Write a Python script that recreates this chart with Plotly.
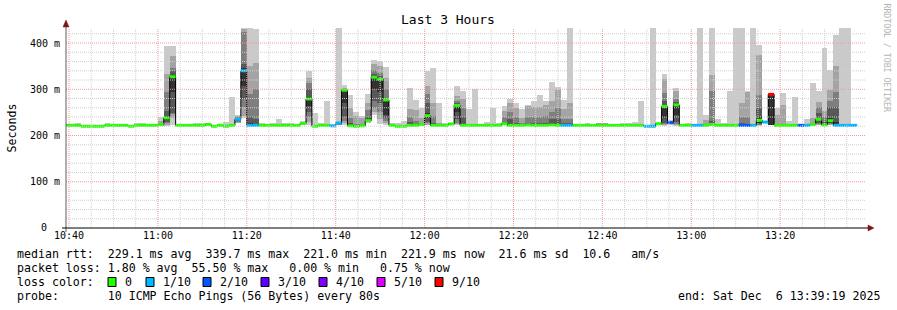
import plotly.graph_objects as go
from datetime import datetime, timedelta

# ---------------- data ----------------
END_TIME = datetime(2025, 12, 6, 13, 39, 19)
START_TIME = END_TIME - timedelta(hours=3)
STEP_SECONDS = 80

median_ms = [
    222, 222, 222, 220, 220, 220, 220, 222, 222, 222,
    222, 220, 222, 222, 222, 222, 224, 238, 327, 222,
    222, 222, 222, 222, 224, 220, 222, 220, 222, 235,
    340, 222, 222, 222, 222, 222, 222, 222, 222, 222,
    226, 279, 220, 222, 222, 221, 227, 298, 221, 220,
    221, 232, 326, 322, 277, 222, 220, 220, 222, 222,
    224, 243, 222, 222, 222, 225, 265, 222, 222, 222,
    222, 222, 222, 222, 225.5, 222, 222, 222, 223, 222,
    222, 222, 223, 222, 222, 222, 222, 222, 222, 222,
    222, 222, 222, 222, 222, 222, 222, 222, 220, 220,
    225.6, 263, 228, 266, 222, 222, 222, 222, 222, 224,
    222, 222, 222, 222, 222, 222, 222, 233, 229, 289,
    222, 222, 222, 222, 222, 222, 224, 235, 223, 232,
    222, 222, 222, 222,
]

loss_count = [
    0, 0, 0, 0, 0, 0, 0, 0, 0, 0,
    0, 0, 0, 0, 0, 0, 0, 0, 0, 0,
    0, 0, 0, 0, 0, 0, 0, 0, 0, 1,
    1, 1, 1, 0, 0, 0, 0, 0, 0, 0,
    0, 0, 0, 0, 0, 1, 1, 0, 0, 0,
    0, 0, 0, 0, 0, 0, 0, 0, 0, 0,
    0, 0, 0, 0, 0, 0, 0, 0, 0, 0,
    0, 0, 0, 0, 0, 0, 0, 0, 0, 0,
    0, 0, 0, 0, 1, 1, 0, 0, 0, 0,
    0, 0, 0, 0, 0, 0, 0, 0, 1, 1,
    0, 0, 2, 0, 0, 0, 1, 1, 0, 0,
    0, 0, 0, 0, 2, 2, 1, 0, 1, 9,
    0, 0, 0, 0, 2, 1, 0, 0, 0, 0,
    1, 1, 1, 1,
]

# sorted ping rtts (ms) per step, ping1 = fastest ... ping10 = slowest
ping10 = [
    222, 222, 226, 220, 220, 220, 220, 226, 222, 222,
    222, 220, 226, 226, 222, 222, 241, 394, 394, 222,
    222, 222, 227, 227, 226, 220, 222, 230, 283, 245,
    433, 433, 430, 226, 222, 226, 235, 226, 226, 222,
    232, 340, 248, 228, 274, 221, 433, 310, 287, 250,
    243, 289, 363, 362, 348, 228, 228, 232, 302, 276,
    260, 340, 345, 270, 228, 228, 308, 297, 257, 301,
    222, 230, 259, 227, 263, 279, 271, 258, 267, 275,
    287, 274, 315, 305, 276, 433, 222, 222, 226, 222,
    226, 226, 222, 222, 228, 228, 230, 274, 220, 433,
    228, 333, 233, 302, 222, 228, 222, 433, 245, 433,
    236, 228, 296, 433, 433, 297, 433, 396, 231, 289,
    259, 292, 231, 283, 222, 236, 314, 297, 390, 342,
    417, 433, 433, 222,
]
ping9 = [
    222, 222, 222, 220, 220, 220, 220, 222, 222, 222,
    222, 220, 222, 222, 222, 222, 232, 333, 372, 222,
    222, 222, 222, 222, 224, 220, 222, 220, 222, 243,
    430, 350, 357, 225, 222, 222, 222, 222, 222, 222,
    230, 325, 220, 222, 222, 221, 229, 303, 259, 243,
    237, 270, 355, 350, 325, 222, 220, 220, 258, 255,
    237, 308, 271, 226, 222, 227, 285, 280, 222, 222,
    222, 222, 222, 222, 252, 270, 260, 237, 263, 262,
    261, 265, 274, 299, 258, 270, 222, 222, 222, 222,
    226, 226, 222, 222, 222, 222, 222, 222, 220, 220,
    227, 323, 231, 296, 222, 222, 222, 222, 233, 330,
    222, 222, 222, 222, 271, 295, 222, 374, 230, 289,
    245, 265, 222, 222, 222, 222, 238, 272, 253, 298,
    351, 222, 222, 222,
]
ping8 = [
    222, 222, 222, 220, 220, 220, 220, 222, 222, 222,
    222, 220, 222, 222, 222, 222, 228, 294, 345, 222,
    222, 222, 222, 222, 224, 220, 222, 220, 222, 240,
    423, 290, 300, 222, 222, 222, 222, 222, 222, 222,
    229, 314, 220, 222, 222, 221, 228, 301, 238, 225,
    224, 255, 341, 335, 300, 222, 220, 220, 240, 231,
    226, 290, 242, 222, 222, 226.5, 275, 260, 222, 222,
    222, 222, 222, 222, 240, 250, 240, 228, 240, 240,
    240, 242, 250, 260, 235, 235, 222, 222, 222, 222,
    225, 225, 222, 222, 222, 222, 222, 222, 220, 220,
    226.5, 291, 230, 278, 222, 222, 222, 222, 222, 296,
    222, 222, 222, 222, 240, 240, 222, 287, 229, 289,
    222, 222, 222, 222, 222, 222, 224, 262, 240, 275,
    294, 222, 222, 222,
]
ping7 = [
    222, 222, 222, 220, 220, 220, 220, 222, 222, 222,
    222, 220, 222, 222, 222, 222, 226, 252, 340, 222,
    222, 222, 222, 222, 224, 220, 222, 220, 222, 238,
    354, 240, 235, 222, 222, 222, 222, 222, 222, 222,
    228, 300, 220, 222, 222, 221, 227.5, 300, 228, 223,
    221, 240, 332, 328, 281, 222, 220, 220, 230, 224,
    224, 270, 228, 222, 222, 226, 270, 240, 222, 222,
    222, 222, 222, 222, 230, 235, 228, 222, 228, 228,
    228, 226, 235, 235, 226, 226, 222, 222, 222, 222,
    222, 222, 222, 222, 222, 222, 222, 222, 220, 220,
    226, 275, 229, 272, 222, 222, 222, 222, 222, 232,
    222, 222, 222, 222, 227, 222, 222, 260, 229, 289,
    222, 222, 222, 222, 222, 222, 224, 249, 230, 262,
    262, 222, 222, 222,
]
ping6 = [
    222, 222, 222, 220, 220, 220, 220, 222, 222, 222,
    222, 220, 222, 222, 222, 222, 225, 242, 330, 222,
    222, 222, 222, 222, 224, 220, 222, 220, 222, 237,
    345, 226, 225, 222, 222, 222, 222, 222, 222, 222,
    227, 284, 220, 222, 222, 221, 227, 299, 223, 222,
    221, 234, 328, 325, 279, 222, 220, 220, 223, 222,
    224, 248, 223, 222, 222, 225.5, 267, 225, 222, 222,
    222, 222, 222, 222, 227, 225, 223, 222, 223, 222,
    222, 222, 226, 225, 222, 222, 222, 222, 222, 222,
    222, 222, 222, 222, 222, 222, 222, 222, 220, 220,
    225.8, 266, 228.5, 268, 222, 222, 222, 222, 222, 226,
    222, 222, 222, 222, 222, 222, 222, 240, 229, 289,
    222, 222, 222, 222, 222, 222, 224, 238, 223, 238,
    230, 222, 222, 222,
]
ping5 = [
    222, 222, 222, 220, 220, 220, 220, 222, 222, 222,
    222, 220, 222, 222, 222, 222, 223, 234, 294, 222,
    222, 222, 222, 222, 224, 220, 222, 220, 222, 233,
    307, 222, 222, 222, 222, 222, 222, 222, 222, 222,
    225, 263, 220, 222, 222, 221, 226, 270, 221, 220,
    221, 230, 300, 295, 245, 222, 220, 220, 222, 222,
    224, 238, 222, 222, 222, 224.5, 250, 222, 222, 222,
    222, 222, 222, 222, 225.5, 222, 222, 222, 223, 222,
    222, 222, 223, 222, 222, 222, 222, 222, 222, 222,
    222, 222, 222, 222, 222, 222, 222, 222, 220, 220,
    225, 240, 227, 245, 222, 222, 222, 222, 222, 224,
    222, 222, 222, 222, 222, 222, 222, 228, 229, 222,
    222, 222, 222, 222, 222, 222, 224, 232, 223, 228,
    222, 222, 222, 222,
]
ping4 = [
    222, 222, 222, 220, 220, 220, 220, 222, 222, 222,
    222, 220, 222, 222, 222, 222, 222, 230, 249, 222,
    222, 222, 222, 222, 224, 220, 222, 220, 222, 231,
    278, 222, 222, 222, 222, 222, 222, 222, 222, 222,
    224, 250, 220, 222, 222, 221, 225, 240, 221, 220,
    221, 229.5, 275, 270, 238, 222, 220, 220, 222, 222,
    224, 230, 222, 222, 222, 224, 235, 222, 222, 222,
    222, 222, 222, 222, 225.5, 222, 222, 222, 223, 222,
    222, 222, 223, 222, 222, 222, 222, 222, 222, 222,
    222, 222, 222, 222, 222, 222, 222, 222, 220, 220,
    224, 228, 226, 230, 222, 222, 222, 222, 222, 224,
    222, 222, 222, 222, 222, 222, 222, 225, 229, 222,
    222, 222, 222, 222, 222, 222, 224, 228, 223, 226,
    222, 222, 222, 222,
]
ping3 = [
    222, 222, 222, 220, 220, 220, 220, 222, 222, 222,
    222, 220, 222, 222, 222, 222, 222, 226, 246, 222,
    222, 222, 222, 222, 224, 220, 222, 220, 222, 229,
    262, 222, 222, 222, 222, 222, 222, 222, 222, 222,
    223, 241, 220, 222, 222, 221, 224, 232, 221, 220,
    221, 229, 260, 250, 232, 222, 220, 220, 222, 222,
    224, 226, 222, 222, 222, 223, 228, 222, 222, 222,
    222, 222, 222, 222, 225.5, 222, 222, 222, 223, 222,
    222, 222, 223, 222, 222, 222, 222, 222, 222, 222,
    222, 222, 222, 222, 222, 222, 222, 222, 220, 220,
    223, 224, 225, 225, 222, 222, 222, 222, 222, 224,
    222, 222, 222, 222, 222, 222, 222, 223, 229, 222,
    222, 222, 222, 222, 222, 222, 224, 225, 223, 224,
    222, 222, 222, 222,
]
ping2 = [
    222, 222, 222, 220, 220, 220, 220, 222, 222, 222,
    222, 220, 222, 222, 222, 222, 222, 223, 238, 222,
    222, 222, 222, 222, 224, 220, 222, 220, 222, 228,
    242, 222, 222, 222, 222, 222, 222, 222, 222, 222,
    222, 230, 220, 222, 222, 221, 223, 226, 221, 220,
    221, 228.5, 250, 235, 226, 222, 220, 220, 222, 222,
    224, 223, 222, 222, 222, 222, 224, 222, 222, 222,
    222, 222, 222, 222, 225.5, 222, 222, 222, 223, 222,
    222, 222, 223, 222, 222, 222, 222, 222, 222, 222,
    222, 222, 222, 222, 222, 222, 222, 222, 220, 220,
    222, 222, 224, 222, 222, 222, 222, 222, 222, 224,
    222, 222, 222, 222, 222, 222, 222, 222, 229, 222,
    222, 222, 222, 222, 222, 222, 224, 223, 223, 223,
    222, 222, 222, 222,
]
ping1 = [
    222, 222, 222, 220, 220, 220, 220, 222, 222, 222,
    222, 220, 222, 222, 222, 222, 222, 221, 222, 222,
    222, 222, 222, 222, 224, 220, 222, 220, 222, 226,
    238, 222, 222, 222, 222, 222, 222, 222, 222, 222,
    222, 223, 220, 222, 222, 221, 222, 222, 221, 220,
    221, 228, 245, 225, 222, 222, 220, 220, 222, 222,
    224, 222, 222, 222, 222, 222, 222, 222, 222, 222,
    222, 222, 222, 222, 225.5, 222, 222, 222, 223, 222,
    222, 222, 223, 222, 222, 222, 222, 222, 222, 222,
    222, 222, 222, 222, 222, 222, 222, 222, 220, 220,
    222, 221, 223, 221, 222, 222, 222, 222, 222, 224,
    222, 222, 222, 222, 222, 222, 222, 221, 229, 222,
    222, 222, 222, 222, 222, 222, 224, 222, 223, 222,
    222, 222, 222, 222,
]

y_tick_values = [100, 200, 300, 400]
y_tick_labels = ["100 m", "200 m", "300 m", "400 m"]
y_zero_label = "0"

loss_levels = [0, 1, 2, 3, 4, 5, 9]
loss_labels = ["0", "1/10", "2/10", "3/10", "4/10", "5/10", "9/10"]

stat_median = "median rtt:  229.1 ms avg  339.7 ms max  221.0 ms min  221.9 ms now  21.6 ms sd  10.6   am/s"
stat_loss = "packet loss: 1.80 % avg  55.50 % max   0.00 % min   0.75 % now"
probe_text = "probe:       10 ICMP Echo Pings (56 Bytes) every 80s"
end_text = "end: Sat Dec  6 13:39:19 2025"

# ---------------- style ----------------
SMOKE = ["#cacaca", "#a4a4a4", "#7e7e7e", "#585858", "#323232"]
LOSS_COLORS = {0: "#26ff00", 1: "#00b8ff", 2: "#0059ff", 3: "#5e00ff",
               4: "#7e00ff", 5: "#dd00ff", 9: "#ff0000"}
MONO = "DejaVu Sans Mono"
W, H = 897, 310
PL, PR, PT, PB = 66, 866, 28, 228  # plot area in pixels


def px(x):
    return (x - PL) / (PR - PL)


def py(y):
    return (PB - y) / (PB - PT)


def nb(s):
    return s.replace(" ", "\u00a0")


def bucket(n):
    return n if n <= 5 else 9


n = len(median_ms)
step = timedelta(seconds=STEP_SECONDS)
centers = [START_TIME + k * step for k in range(n)]
lefts = [c - step / 2 for c in centers]
rights = [c + step / 2 for c in centers]
pings = [ping1, ping2, ping3, ping4, ping5, ping6, ping7, ping8, ping9, ping10]

fig = go.Figure()

# smoke bands: ping i .. ping (11-i)
for b in range(5):
    lo = pings[b]
    hi = pings[9 - b]
    fig.add_trace(go.Bar(
        x=centers, y=[h - l for h, l in zip(hi, lo)], base=lo,
        width=[STEP_SECONDS * 1000] * n,
        marker=dict(color=SMOKE[b], line=dict(width=0)),
        hoverinfo="skip", showlegend=False))

# black median step line
fig.add_trace(go.Scatter(
    x=lefts + [rights[-1]], y=median_ms + [median_ms[-1]],
    mode="lines", line=dict(color="#000000", width=1, shape="hv"),
    hoverinfo="skip", showlegend=False))

# median coloured by loss
for lvl in loss_levels:
    xs, ys = [], []
    for k in range(n):
        if bucket(loss_count[k]) == lvl:
            xs += [lefts[k], rights[k], None]
            ys += [median_ms[k], median_ms[k], None]
    if xs:
        fig.add_trace(go.Scatter(
            x=xs, y=ys, mode="lines",
            line=dict(color=LOSS_COLORS[lvl], width=3),
            hoverinfo="skip", showlegend=False))

shapes = []
# grid (drawn over the data like rrdtool)
for v in range(20, 440, 20):
    if v > 432:
        break
    major = v % 100 == 0
    shapes.append(dict(type="line", xref="paper", yref="y", x0=0, x1=1, y0=v, y1=v,
                       line=dict(color="#f09a9a" if major else "#cfcfcf", width=1,
                                 dash="1px,1px"), layer="above"))
t = datetime(2025, 12, 6, 10, 40)
while t < END_TIME:
    major = t.minute % 20 == 0
    shapes.append(dict(type="line", xref="x", yref="paper", x0=t, x1=t, y0=0, y1=1,
                       line=dict(color="#f09a9a" if major else "#cfcfcf", width=1,
                                 dash="1px,1px"), layer="above"))
    t += timedelta(minutes=5)

# axes lines and arrows
shapes.append(dict(type="line", xref="paper", yref="paper", x0=px(PL), x1=px(PL),
                   y0=py(232), y1=py(24), line=dict(color="#606060", width=1), layer="above"))
shapes.append(dict(type="line", xref="paper", yref="paper", x0=px(62), x1=px(869),
                   y0=py(PB), y1=py(PB), line=dict(color="#000000", width=1), layer="above"))
shapes.append(dict(type="path", xref="paper", yref="paper",
                   path=f"M {px(868)} {py(225)} L {px(874)} {py(228)} L {px(868)} {py(231)} Z",
                   fillcolor="#7f1414", line=dict(color="#7f1414", width=0.5), layer="above"))
shapes.append(dict(type="path", xref="paper", yref="paper",
                   path=f"M {px(63)} {py(27)} L {px(66)} {py(20)} L {px(69)} {py(27)} Z",
                   fillcolor="#7f1414", line=dict(color="#7f1414", width=0.5), layer="above"))

# loss legend boxes
box_x = [108, 146, 203, 261, 319, 377, 435]
annotations = []
for i, lvl in enumerate(loss_levels):
    x0 = box_x[i]
    shapes.append(dict(type="rect", xref="paper", yref="paper",
                       x0=px(x0), x1=px(x0 + 8), y0=py(286.5), y1=py(277.5),
                       fillcolor=LOSS_COLORS[lvl], line=dict(color="#000000", width=1),
                       layer="above"))
    annotations.append(dict(text=loss_labels[i], x=px(x0 + 14.5), y=py(282.3),
                            xref="paper", yref="paper", xanchor="left", yanchor="middle",
                            showarrow=False, font=dict(family=MONO, size=11.6, color="#000")))

def text(s, x, y, anchor="left", size=11.6, color="#000", angle=0):
    annotations.append(dict(text=nb(s), x=px(x), y=py(y), xref="paper", yref="paper",
                            xanchor=anchor, yanchor="middle", showarrow=False,
                            textangle=angle, borderpad=0,
                            font=dict(family=MONO, size=size, color=color)))

text("Last 3 Hours", 448, 19.5, anchor="center", size=13)
text("Seconds", 11, 127.5, anchor="center", angle=-90)
text("RRDTOOL / TOBI OETIKER", 886, 58.5, anchor="center", size=8.2, color="#b4b4b4", angle=90)
text(stat_median, 16, 254.3)
text(stat_loss, 16, 268.3)
text("loss color:", 16, 282.3)
text(probe_text, 16, 296.2)
text(end_text, 881, 296.2, anchor="right")
# zero label of the value axis (aligned with the number column)
text(y_zero_label, 48, 227.5, anchor="right", size=10)

fig.update_layout(
    width=W, height=H, autosize=False,
    margin=dict(l=PL, r=W - PR, t=PT, b=H - PB, pad=0),
    paper_bgcolor="#ffffff", plot_bgcolor="#ffffff",
    barmode="overlay", bargap=0, showlegend=False, hovermode=False,
    shapes=shapes, annotations=annotations,
    xaxis=dict(type="date", range=[START_TIME, END_TIME], showgrid=False, zeroline=False,
               showline=False, tickformat="%H:%M", tick0=datetime(2025, 12, 6, 10, 40),
               dtick=20 * 60 * 1000, ticks="", ticklen=0,
               tickfont=dict(family=MONO, size=10, color="#000")),
    yaxis=dict(range=[0, 432.5], showgrid=False, zeroline=False, showline=False,
               tickvals=y_tick_values, ticktext=y_tick_labels, ticks="outside", ticklen=3,
               tickcolor="rgba(0,0,0,0)", tickfont=dict(family=MONO, size=10, color="#000")),
)

fig.write_html("out.html")
